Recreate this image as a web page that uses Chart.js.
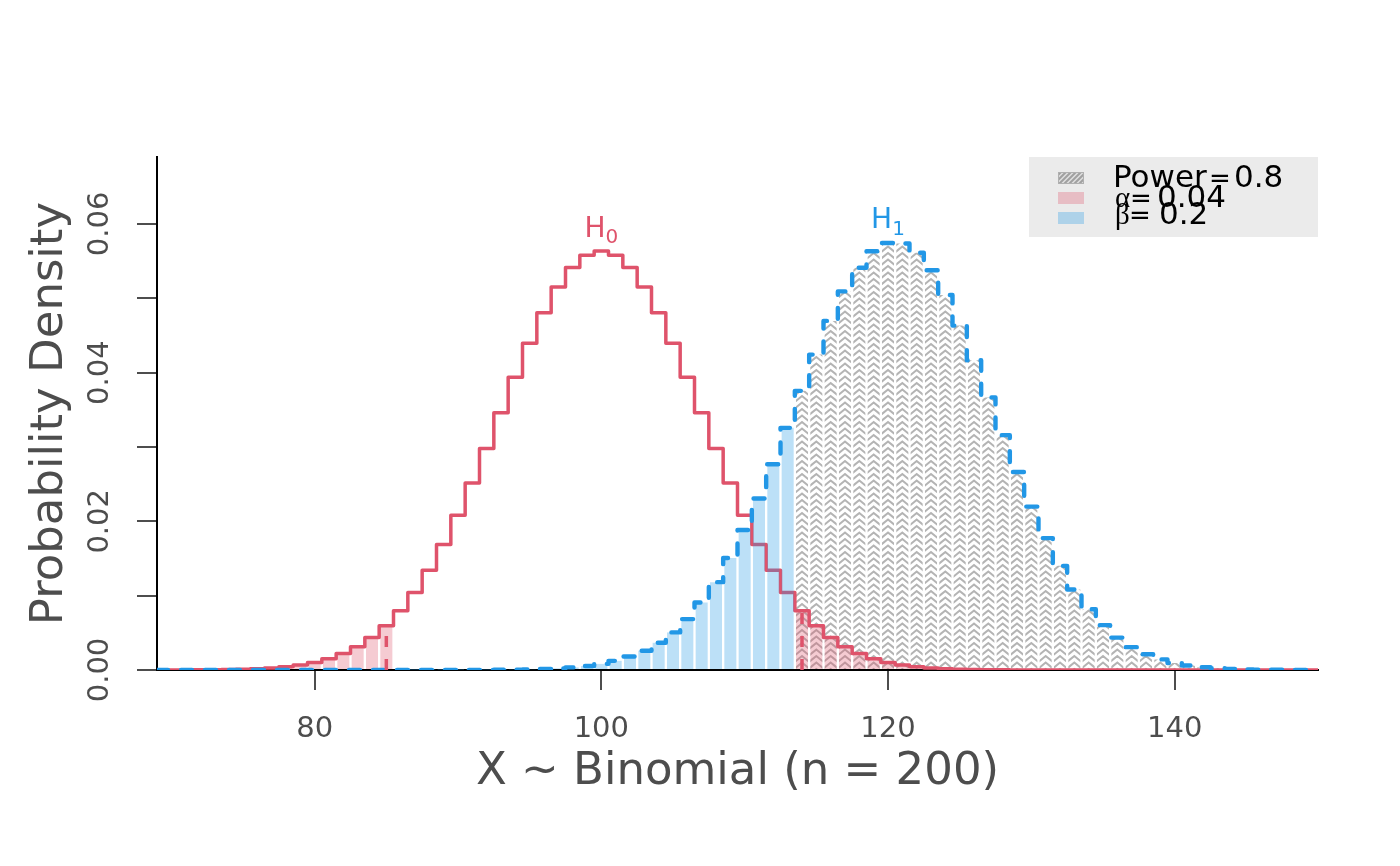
<!DOCTYPE html>
<html><head><meta charset="utf-8">
<script src="https://cdn.jsdelivr.net/npm/chart.js@4.4.1/dist/chart.umd.min.js"></script>
<style>html,body{margin:0;padding:0;background:#fff}#wrap{width:1400px;height:866px}</style>
</head><body><div id="wrap"><canvas id="c" width="1400" height="866"></canvas></div>
<script>
// ---------- data ----------
const xValues = [69,70,71,72,73,74,75,76,77,78,79,80,81,82,83,84,85,86,87,88,89,90,91,92,93,94,95,96,97,98,99,100,
  101,102,103,104,105,106,107,108,109,110,111,112,113,114,115,116,117,118,119,120,121,122,123,124,125,126,127,128,129,130,
  131,132,133,134,135,136,137,138,139,140,141,142,143,144,145,146,147,148,149,150];
const h0Density = [0.0000033,0.0000063,0.0000116,0.0000208,0.0000364,0.0000625,0.000105,0.000173,0.000278,0.000439,0.000678,
  0.001025,0.001519,0.002204,0.003133,0.004364,0.005956,0.007964,0.010436,0.013401,0.016864,0.020799,0.025142,0.029787,
  0.034591,0.039375,0.043934,0.048053,0.051520,0.054149,0.055790,0.056348,0.055790,0.054149,0.051520,0.048053,0.043934,
  0.039375,0.034591,0.029787,0.025142,0.020799,0.016864,0.013401,0.010436,0.007964,0.005956,0.004364,0.003133,0.002204,
  0.001519,0.001025,0.000678,0.000439,0.000278,0.000173,0.000105,0.0000625,0.0000364,0.0000208,0.0000116,0.0000063,
  0.0000033,0.0000017,0.0000008,0.0000004,0.0000002,0,0,0,0,0,0,0,0,0,0,0,0,0,0,0];
const h1Density = [0,0,0,0,0,0,0,0,0,0,0,0,0,0,0,0,0,0,0.0000007,0.0000014,0.0000026,0.0000049,0.0000089,0.0000161,
  0.0000282,0.0000485,0.0000817,0.000135,0.000219,0.000347,0.000541,0.000824,0.001233,0.001807,0.002597,0.003660,0.005055,
  0.006844,0.009083,0.011815,0.015065,0.018828,0.023061,0.027682,0.032569,0.037545,0.042419,0.046954,0.050925,0.054109,
  0.056326,0.057438,0.057368,0.056122,0.053764,0.050437,0.046325,0.041654,0.036665,0.031589,0.026634,0.021976,0.017739,
  0.014008,0.010820,0.008173,0.006035,0.004358,0.003075,0.002121,0.001429,0.000940,0.000605,0.000379,0.000233,0.000140,
  0.0000812,0.0000462,0.0000256,0.0000139,0.0000074,0.0000037];
const criticalLower = 85;
const criticalUpper = 114;
const xTicks = [80, 100, 120, 140];
const yTicks = [0, 0.01, 0.02, 0.03, 0.04, 0.05, 0.06];
const yTickLabels = ['0.00', '', '0.02', '', '0.04', '', '0.06'];
const legendNames = ['Power', 'α', 'β'];
const legendValues = ['0.8', '0.04', '0.2'];
const hypothesisNames = ['H', 'H'];
const hypothesisSubs = ['0', '1'];
const xTitle = 'X ~ Binomial (n = 200)';
const yTitle = 'Probability Density';

// ---------- derived tables ----------
const RED = '#DF536B', BLUE = '#2297E6';
const pts = arr => xValues.map((x, i) => ({x, y: arr[i]}));
const h0Points = pts(h0Density);
const h1Points = pts(h1Density);
const powerPoints = h1Points.filter(p => p.x >= criticalUpper);
const betaPoints = h1Points.filter(p => p.x > criticalLower && p.x < criticalUpper);
const alphaPoints = h0Points.filter(p => p.x <= criticalLower || p.x >= criticalUpper);
const critLow = [{x: criticalLower, y: 0}, {x: criticalLower, y: h0Density[xValues.indexOf(criticalLower)]}];
const critHigh = [{x: criticalUpper, y: 0}, {x: criticalUpper, y: h0Density[xValues.indexOf(criticalUpper)]}];

const FONT = "'DejaVu Sans', sans-serif";
const barCommon = {type: 'bar', grouped: false, barPercentage: 0.84, categoryPercentage: 1, borderWidth: 0};

function chevrons(ctx, l, r, t, b) {
  const mid = (l + r) / 2, rise = 5, gap = 6.5;
  ctx.beginPath();
  for (let y = b + rise + gap; y > t - gap; y -= gap) {
    ctx.moveTo(l - 1, y + 0.8); ctx.lineTo(mid, y - rise); ctx.lineTo(r + 1, y + 0.8);
  }
  ctx.stroke();
}

const hatchPlugin = {
  id: 'hatch',
  afterDatasetDraw(chart, args) {
    const ds = chart.data.datasets[args.index];
    if (!ds.hatch) return;
    const ctx = chart.ctx, ca = chart.chartArea;
    ctx.save();
    ctx.strokeStyle = '#b4b4b4'; ctx.lineWidth = 2.1;
    args.meta.data.forEach(el => {
      const w = el.width, l = el.x - w / 2, r = el.x + w / 2;
      const t = Math.max(el.y, ca.top), b = el.base;
      if (b - t < 0.5) return;
      ctx.save();
      ctx.beginPath(); ctx.rect(l, t, w, b - t); ctx.clip();
      chevrons(ctx, l, r, t, b);
      ctx.restore();
    });
    ctx.restore();
  }
};

const decorPlugin = {
  id: 'decor',
  afterDraw(chart) {
    const ctx = chart.ctx, ca = chart.chartArea;
    const ys = chart.scales.y, xs = chart.scales.x;
    ctx.save();
    // y tick labels (rotated, R style)
    ctx.fillStyle = '#4d4d4d';
    ctx.font = '29px ' + FONT;
    ctx.textAlign = 'center'; ctx.textBaseline = 'middle';
    yTicks.forEach((v, i) => {
      if (!yTickLabels[i]) return;
      ctx.save();
      ctx.translate(ca.left - 57, ys.getPixelForValue(v));
      ctx.rotate(-Math.PI / 2);
      ctx.fillText(yTickLabels[i], 0, 0);
      ctx.restore();
    });
    // hypothesis labels
    ctx.textAlign = 'left'; ctx.textBaseline = 'alphabetic';
    [[h0Density, RED], [h1Density, BLUE]].forEach(([arr, col], i) => {
      let m = 0; arr.forEach((v, j) => { if (v > arr[m]) m = j; });
      const cx = xs.getPixelForValue(xValues[m]);
      const by = ys.getPixelForValue(arr[m]) - 14.5;
      ctx.fillStyle = col;
      ctx.font = '28px ' + FONT;
      const wH = ctx.measureText(hypothesisNames[i]).width;
      ctx.font = '20px ' + FONT;
      const wS = ctx.measureText(hypothesisSubs[i]).width;
      const sx = cx - (wH + wS) / 2;
      ctx.font = '28px ' + FONT;
      ctx.fillText(hypothesisNames[i], sx, by);
      ctx.font = '20px ' + FONT;
      ctx.fillText(hypothesisSubs[i], sx + wH, by + 6.5);
    });
    // legend
    const bw = 289, bh = 80, bl = ca.right - bw, bt = ca.top;
    ctx.fillStyle = '#ebebeb';
    ctx.fillRect(bl, bt, bw, bh);
    const sw = {x: bl + 29, w: 26};
    ctx.save();
    ctx.beginPath(); ctx.rect(sw.x, bt + 15, sw.w, 12); ctx.clip();
    ctx.fillStyle = '#dedede'; ctx.fillRect(sw.x, bt + 15, sw.w, 12);
    ctx.strokeStyle = '#a0a0a0'; ctx.lineWidth = 2;
    ctx.beginPath();
    for (let k = -14; k < 40; k += 5) { ctx.moveTo(sw.x + k, bt + 27); ctx.lineTo(sw.x + k + 12, bt + 15); }
    ctx.stroke();
    ctx.restore();
    ctx.strokeStyle = '#b0b0b0'; ctx.lineWidth = 1;
    ctx.strokeRect(sw.x + 0.5, bt + 15.5, sw.w - 1, 11);
    ctx.fillStyle = 'rgba(223,83,107,0.3)';
    ctx.fillRect(sw.x, bt + 35, sw.w, 12);
    ctx.fillStyle = 'rgba(34,151,230,0.3)';
    ctx.fillRect(sw.x, bt + 55, sw.w, 12);
    // legend text
    ctx.fillStyle = '#000';
    const tx = bl + 84;
    ctx.font = '31px ' + FONT;
    ctx.fillText(legendNames[0], tx, bt + 30);
    ctx.fillText(legendValues[0], tx + 121, bt + 30);
    ctx.fillText(legendValues[1], tx + 44, bt + 50);
    ctx.fillText(legendValues[2], tx + 46, bt + 67);
    ctx.font = "29px 'Liberation Serif', serif";
    ctx.fillText(legendNames[1], tx + 2, bt + 50);
    ctx.fillText(legendNames[2], tx + 2, bt + 67);
    ctx.font = '26px ' + FONT;
    ctx.textAlign = 'center';
    ctx.fillText('=', tx + 107, bt + 30);
    ctx.fillText('=', tx + 28, bt + 50);
    ctx.fillText('=', tx + 27, bt + 67);
    ctx.restore();
  }
};

new Chart(document.getElementById('c'), {
  type: 'line',
  data: {
    datasets: [
      Object.assign({}, barCommon, {label: 'power', data: powerPoints, backgroundColor: 'rgba(0,0,0,0)', hatch: true, order: 10}),
      {type: 'line', label: 'H0', data: h0Points, stepped: 'middle', borderColor: RED, borderWidth: 3.5,
        pointRadius: 0, fill: false, borderJoinStyle: 'round', order: 9},
      Object.assign({}, barCommon, {label: 'beta', data: betaPoints, backgroundColor: 'rgba(34,151,230,0.3)', order: 8}),
      Object.assign({}, barCommon, {label: 'alpha', data: alphaPoints, backgroundColor: 'rgba(223,83,107,0.3)', order: 7}),
      {type: 'line', label: 'H1', data: h1Points, stepped: 'middle', borderColor: BLUE, borderWidth: 4.4,
        borderDash: [11, 13], borderCapStyle: 'round', borderJoinStyle: 'round', pointRadius: 0, fill: false, order: 6},
      {type: 'line', label: 'critLow', data: critLow, borderColor: RED, borderWidth: 3.5, borderDash: [11, 12],
        pointRadius: 0, fill: false, order: 5},
      {type: 'line', label: 'critHigh', data: critHigh, borderColor: RED, borderWidth: 3.5, borderDash: [11, 12],
        pointRadius: 0, fill: false, order: 5}
    ]
  },
  options: {
    responsive: false, animation: false, devicePixelRatio: 1, events: [],
    layout: {padding: {left: 0, right: 82, top: 157, bottom: 0}},
    plugins: {legend: {display: false}, tooltip: {enabled: false}},
    scales: {
      x: {
        type: 'linear', min: 69, max: 150, offset: false,
        afterBuildTicks: s => { s.ticks = xTicks.map(v => ({value: v})); },
        afterFit: s => { s.height = 196; },
        ticks: {font: {family: FONT, size: 29}, color: '#4d4d4d', padding: 22, maxRotation: 0, autoSkip: false,
          callback: v => String(v)},
        grid: {display: true, offset: false, drawOnChartArea: false, drawTicks: true, tickLength: 20, color: '#4d4d4d', lineWidth: 2},
        border: {display: true, color: '#000', width: 2},
        title: {display: true, text: xTitle, color: '#4d4d4d', font: {family: FONT, size: 45}, padding: {bottom: 67}}
      },
      y: {
        type: 'linear', min: 0, max: 0.069,
        afterBuildTicks: s => { s.ticks = yTicks.map(v => ({value: v})); },
        afterFit: s => { s.width = 157; },
        ticks: {display: false},
        grid: {display: true, drawOnChartArea: false, drawTicks: true, tickLength: 20, color: '#4d4d4d', lineWidth: 2},
        border: {display: true, color: '#000', width: 2},
        title: {display: true, text: yTitle, color: '#4d4d4d', font: {family: FONT, size: 45}, padding: {top: 23}}
      }
    }
  },
  plugins: [hatchPlugin, decorPlugin]
});
</script></body></html>
